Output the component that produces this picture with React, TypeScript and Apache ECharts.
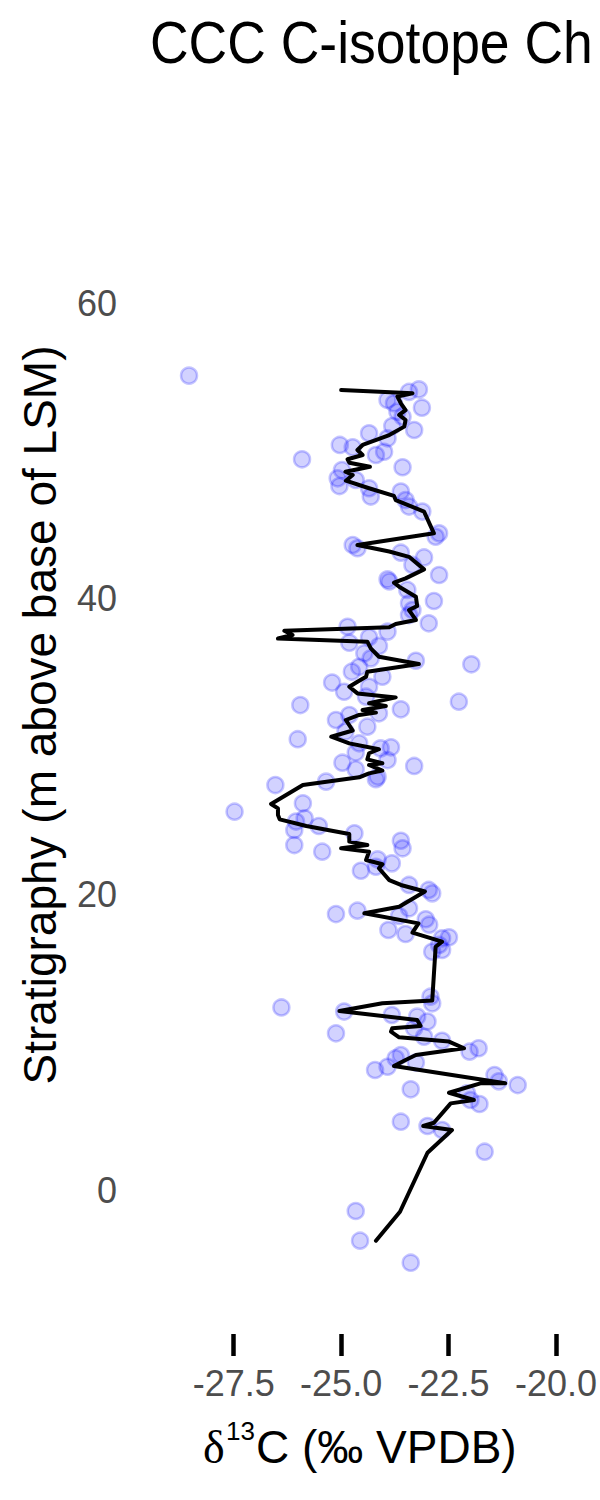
import React, { useEffect, useRef } from "react";
import * as echarts from "echarts";

const titleText = "CCC C-isotope Ch";
const yTitle = "Stratigraphy (m above base of LSM)";
const xTicks = [-27.5, -25.0, -22.5, -20.0];
const yTicks = [0, 20, 40, 60];

// scatter samples: d13C (x) and stratigraphic height (y)
const sampleD13C = [
  -28.54, -23.19, -23.42, -23.92, -23.77, -23.12, -23.69, -23.57, -23.81, -23.30,
  -24.35, -23.92, -25.03, -24.73, -24.0, -24.19, -25.91, -23.57, -24.98, -25.08,
  -25.04, -24.66, -24.35, -24.31, -23.61, -23.50, -23.42, -23.11, -22.72, -22.80,
  -24.73, -24.62, -23.61, -23.07, -23.34, -22.72, -23.92, -23.88, -23.46, -22.84,
  -23.42, -23.34, -23.42, -22.96, -24.85, -23.92, -24.81, -24.35, -24.12, -24.46,
  -24.31, -23.26, -21.97, -24.58, -24.75, -24.04, -25.21, -24.35, -24.93, -24.42,
  -22.26, -23.61, -24.12, -25.95, -24.81, -25.12, -24.39, -24.90, -26.01, -24.58,
  -24.08, -23.84, -24.66, -23.92, -24.97, -24.66, -23.30, -24.15, -24.19, -25.35,
  -26.53, -25.89, -27.48, -25.85, -26.05, -25.52, -26.09, -24.69, -26.09, -25.44,
  -23.61, -23.57, -24.15, -23.82, -24.54, -24.19, -23.42, -22.96, -22.88, -23.42,
  -25.12, -24.62, -23.65, -23.03, -22.95, -23.90, -23.50, -22.65, -22.49, -22.72,
  -22.88, -22.65, -22.92, -22.88, -26.39, -24.93, -23.82, -23.23, -22.99, -25.12,
  -23.30, -23.07, -22.65, -22.01, -21.80, -23.61, -23.73, -23.26, -23.92, -24.21,
  -21.43, -21.33, -20.89, -23.38, -22.07, -21.99, -21.78, -23.61, -22.99, -22.65,
  -21.66, -24.66, -24.56, -23.38,
];
const sampleStrat = [
  55.1, 54.17, 54.0, 53.45, 53.23, 52.93, 52.66, 52.32, 51.69, 51.42,
  51.2, 50.86, 50.41, 50.25, 49.95, 49.73, 49.44, 48.9, 48.71, 48.15,
  47.63, 48.04, 47.48, 46.92, 47.26, 46.68, 46.24, 45.9, 44.43, 44.2,
  43.64, 43.42, 43.12, 42.8, 42.29, 41.61, 41.32, 41.17, 40.6, 39.85,
  39.7, 39.24, 38.9, 38.34, 38.11, 37.78, 37.03, 37.4, 36.81, 36.31,
  35.97, 35.81, 35.57, 35.4, 35.07, 34.73, 34.33, 34.05, 33.71, 33.38,
  33.04, 32.52, 32.25, 32.81, 32.14, 31.8, 31.35, 31.02, 30.5, 30.22,
  29.88, 29.95, 29.6, 29.09, 28.91, 28.46, 28.69, 27.96, 27.79, 27.63,
  27.4, 26.16, 25.6, 25.15, 24.93, 24.63, 24.36, 24.13, 23.34, 22.89,
  23.63, 23.12, 22.37, 22.1, 21.6, 21.87, 20.64, 20.3, 20.07, 19.06,
  18.67, 18.9, 18.54, 18.32, 17.95, 17.59, 17.32, 17.03, 17.1, 16.58,
  16.12, 16.24, 13.08, 12.63, 12.35, 12.07, 11.84, 11.73, 11.4, 10.6,
  10.94, 10.37, 10.1, 9.36, 9.59, 9.13, 8.91, 8.62, 8.34, 8.12,
  7.78, 7.35, 7.1, 6.81, 6.54, 6.09, 5.82, 4.62, 4.33, 4.06,
  2.59, -1.42, -3.43, -4.92,
];

// smoothed curve, ordered by stratigraphic height
const curveD13C = [
  -24.19, -23.63, -22.99, -22.42, -23.09, -22.84, -22.45, -21.91, -22.49, -21.76,
  -21.18, -23.77, -23.5, -23.26, -22.14, -22.49, -23.65, -23.84, -23.81, -23.15,
  -23.23, -25.04, -24.04, -22.88, -22.80, -22.65, -23.34, -23.2, -24.46, -23.65,
  -23.05, -23.61, -23.88, -24.12, -24.04, -24.42, -24.35, -25.0, -24.39, -24.81,
  -24.81, -25.81, -26.43, -26.47, -26.47, -26.63, -25.89, -24.58, -24.35, -24.04,
  -24.35, -24.04, -24.39, -24.35, -24.12, -24.81, -25.23, -24.73, -24.89, -24.58,
  -24.19, -24.50, -23.96, -24.35, -23.73, -24.62, -24.81, -24.62, -24.42, -24.39,
  -23.19, -24.12, -24.31, -24.39, -26.47, -26.13, -26.32, -23.88, -23.73, -23.26,
  -23.42, -23.23, -23.26, -23.65, -23.77, -23.50, -23.07, -23.42, -23.88, -24.62,
  -22.84, -23.07, -23.73, -23.77, -24.35, -24.89, -24.73, -24.90, -24.33, -24.81,
  -24.85, -24.50, -24.62, -24.5, -23.88, -23.53, -23.5, -23.65, -23.5, -23.61,
  -23.69, -23.34, -25.0,
];
const curveStrat = [
  -3.43, -1.47, 2.52, 4.06, 4.33, 4.55, 5.86, 6.09, 6.58, 7.22,
  7.22, 8.39, 8.8, 9.13, 9.59, 10.04, 10.33, 10.71, 10.94, 11.1,
  11.5, 12.11, 12.63, 12.82, 16.46, 16.8, 17.41, 18.04, 18.72, 19.17,
  20.2, 20.64, 20.97, 21.77, 22.04, 22.33, 22.89, 23.12, 23.34, 23.57,
  24.09, 24.63, 25.08, 25.37, 25.82, 26.12, 27.4, 27.92, 28.19, 28.38,
  28.76, 28.87, 29.14, 29.55, 29.82, 30.22, 30.67, 31.09, 31.8, 32.14,
  32.3, 32.48, 32.75, 32.93, 33.33, 33.6, 34.05, 34.39, 34.73, 35.07,
  35.59, 36.08, 36.65, 37.1, 37.31, 37.55, 37.84, 38.07, 38.3, 38.57,
  39.24, 39.51, 40.14, 40.82, 41.09, 41.38, 41.99, 42.84, 43.2, 43.64,
  44.43, 45.9, 46.68, 46.96, 47.48, 47.99, 48.38, 48.6, 48.94, 49.21,
  49.44, 49.73, 50.07, 50.41, 51.08, 51.65, 52.1, 52.44, 52.77, 53.23,
  53.69, 53.91, 54.13,
];

const FONT = "Liberation Sans, Arial, Helvetica, sans-serif";

export default function App() {
  const ref = useRef<HTMLDivElement>(null);
  useEffect(() => {
    if (!ref.current) return;
    const chart = echarts.init(ref.current, null, { renderer: "svg" });
    const scatterData = sampleD13C.map((x, i) => [x, sampleStrat[i]]);
    const lineData = curveD13C.map((x, i) => [x, curveStrat[i]]);
    chart.setOption({
      animation: false,
      backgroundColor: "#ffffff",
      grid: { left: 150, right: 34, top: 96, bottom: 166, containLabel: false },
      xAxis: {
        type: "value",
        min: -29.448,
        max: -19.8,
        axisLine: { show: false, onZero: false },
        splitLine: { show: false },
        axisTick: {
          show: true,
          customValues: xTicks,
          length: 22,
          lineStyle: { color: "#000000", width: 4.5 },
        },
        axisLabel: {
          customValues: xTicks,
          formatter: (v: number) => v.toFixed(1),
          fontFamily: FONT,
          fontSize: 36,
          color: "#4D4D4D",
          margin: 31,
        },
      },
      yAxis: {
        type: "value",
        min: -9.743,
        max: 74.02,
        axisLine: { show: false, onZero: false },
        splitLine: { show: false },
        axisTick: { show: false },
        axisLabel: {
          customValues: yTicks,
          formatter: (v: number) => String(v),
          fontFamily: FONT,
          fontSize: 36,
          color: "#4D4D4D",
          margin: 33,
        },
      },
      graphic: [
        {
          type: "text",
          x: 150,
          y: 43,
          scaleY: 1.1,
          style: {
            text: titleText,
            fontFamily: FONT,
            fontSize: 53.5,
            fill: "#000000",
            align: "left",
            verticalAlign: "middle",
          },
        },
        {
          type: "text",
          x: 40,
          y: 715,
          rotation: Math.PI / 2,
          style: {
            text: yTitle,
            fontFamily: FONT,
            fontSize: 46,
            fill: "#000000",
            align: "center",
            verticalAlign: "middle",
          },
        },
        {
          type: "text",
          x: 203,
          y: 1447,
          style: {
            text: "δ",
            fontFamily: "Liberation Serif, DejaVu Serif, serif",
            fontSize: 46,
            fill: "#000000",
            align: "left",
            verticalAlign: "middle",
          },
        },
        {
          type: "text",
          x: 226,
          y: 1431,
          style: {
            text: "13",
            fontFamily: FONT,
            fontSize: 26,
            fill: "#000000",
            align: "left",
            verticalAlign: "middle",
          },
        },
        {
          type: "text",
          x: 256,
          y: 1447,
          style: {
            text: "C (‰ VPDB)",
            fontFamily: FONT,
            fontSize: 46,
            fill: "#000000",
            align: "left",
            verticalAlign: "middle",
          },
        },
      ],
      series: [
        {
          type: "scatter",
          data: scatterData,
          symbol: "circle",
          symbolSize: 16,
          itemStyle: {
            color: "rgba(0,0,255,0.22)",
            borderColor: "rgba(0,0,255,0.28)",
            borderWidth: 2.5,
          },
          z: 2,
        },
        {
          type: "line",
          data: lineData,
          showSymbol: false,
          symbol: "none",
          lineStyle: { color: "#000000", width: 4, join: "round", cap: "round" },
          z: 3,
        },
      ],
    });
    return () => chart.dispose();
  }, []);
  return (
    <div
      ref={ref}
      style={{ position: "absolute", left: 0, top: 0, width: 600, height: 1500 }}
    />
  );
}
